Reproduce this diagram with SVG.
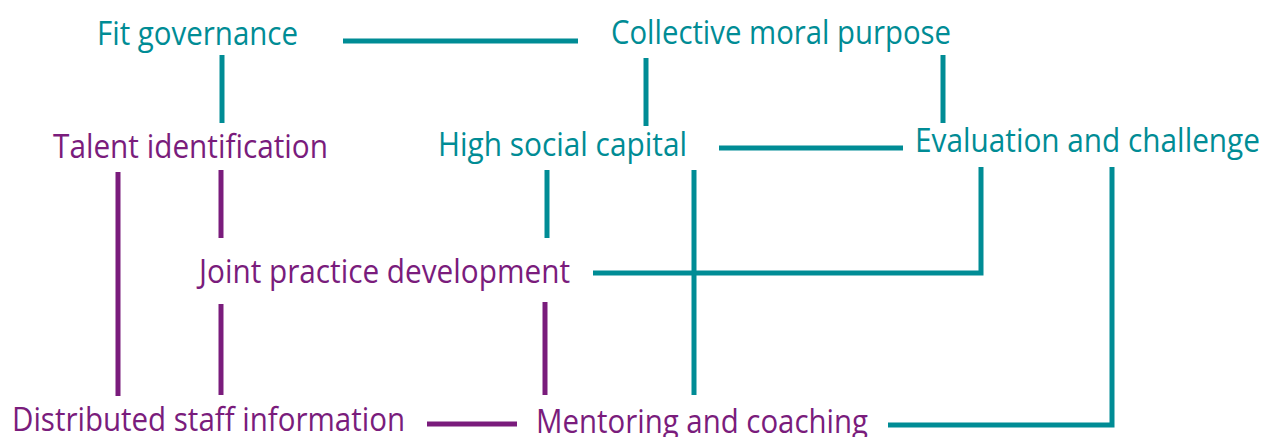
<svg xmlns="http://www.w3.org/2000/svg" width="1264" height="437" viewBox="0 0 1264 437">
  <style>
    .lbl { font-family: "Open Sans", "Noto Sans", "Liberation Sans", sans-serif; font-size: 32px; font-weight: 500; }
    .teal { fill: #008C95; }
    .purple { fill: #7A1C7C; }
    .ct { stroke: #008C95; stroke-width: 5; fill: none; stroke-linecap: butt; stroke-linejoin: miter; }
    .cp { stroke: #7A1C7C; stroke-width: 5; fill: none; stroke-linecap: butt; }
  </style>
  <rect width="1264" height="437" fill="#ffffff"/>
  <g id="connectors">
    <line class="ct" x1="343" y1="41" x2="578" y2="41"/>
    <line class="ct" x1="222" y1="55" x2="222" y2="123"/>
    <line class="ct" x1="646" y1="58" x2="646" y2="126"/>
    <line class="ct" x1="943" y1="55" x2="943" y2="123"/>
    <line class="ct" x1="719" y1="148" x2="903" y2="148"/>
    <line class="ct" x1="547" y1="170" x2="547" y2="238"/>
    <line class="ct" x1="694" y1="170" x2="694" y2="395"/>
    <polyline class="ct" points="593,273 981,273 981,167"/>
    <polyline class="ct" points="888,425 1112,425 1112,167"/>
    <line class="cp" x1="118" y1="172" x2="118" y2="396"/>
    <line class="cp" x1="221" y1="170" x2="221" y2="238"/>
    <line class="cp" x1="221" y1="304" x2="221" y2="395"/>
    <line class="cp" x1="545" y1="302" x2="545" y2="395"/>
    <line class="cp" x1="427" y1="424" x2="517" y2="424"/>
  </g>
  <g id="fit-governance">
    <text class="lbl teal" x="97" y="45" textLength="201" lengthAdjust="spacingAndGlyphs">Fit governance</text>
  </g>
  <g id="collective-moral-purpose">
    <text class="lbl teal" x="611" y="44" textLength="340" lengthAdjust="spacingAndGlyphs">Collective moral purpose</text>
  </g>
  <g id="talent-identification">
    <text class="lbl purple" x="53" y="158" textLength="275" lengthAdjust="spacingAndGlyphs">Talent identification</text>
  </g>
  <g id="high-social-capital">
    <text class="lbl teal" x="438" y="156" textLength="249" lengthAdjust="spacingAndGlyphs">High social capital</text>
  </g>
  <g id="evaluation-and-challenge">
    <text class="lbl teal" x="915" y="152" textLength="345" lengthAdjust="spacingAndGlyphs">Evaluation and challenge</text>
  </g>
  <g id="joint-practice-development">
    <text class="lbl purple" x="199" y="283" textLength="371" lengthAdjust="spacingAndGlyphs">Joint practice development</text>
  </g>
  <g id="distributed-staff-information">
    <text class="lbl purple" x="12" y="431" textLength="393" lengthAdjust="spacingAndGlyphs">Distributed staff information</text>
  </g>
  <g id="mentoring-and-coaching">
    <text class="lbl purple" x="536" y="433" textLength="332" lengthAdjust="spacingAndGlyphs">Mentoring and coaching</text>
  </g>
</svg>
